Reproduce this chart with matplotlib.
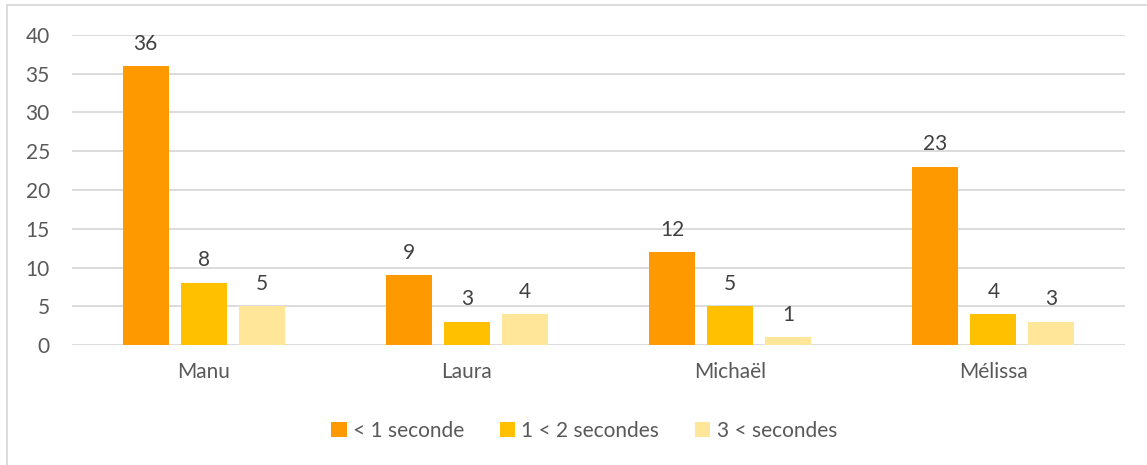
import matplotlib
matplotlib.use("Agg")
import matplotlib.pyplot as plt
import numpy as np
from matplotlib.lines import Line2D

categories = ["Manu", "Laura", "Michaël", "Mélissa"]
series_names = ["< 1 seconde", "1 < 2 secondes", "3 < secondes"]
under_1s = [36, 9, 12, 23]
between_1_2s = [8, 3, 5, 4]
over_3s = [5, 4, 1, 3]
yticks = [0, 5, 10, 15, 20, 25, 30, 35, 40]

colors = ["#FF9900", "#FFC000", "#FFE699"]
plt.rcParams["font.family"] = ["Lato", "DejaVu Sans"]
FS = 15

W, H = 1147, 465
fig = plt.figure(figsize=(W / 100, H / 100), dpi=100)
ax = fig.add_axes([72 / W, 1 - 345 / H, (1125 - 72) / W, (345 - 35) / H])

x = np.arange(len(categories))
bar_w = 46 / 263.25
step = 58 / 263.25
for i, (vals, name, col) in enumerate(zip([under_1s, between_1_2s, over_3s], series_names, colors)):
    pos = x + (i - 1) * step
    bars = ax.bar(pos, vals, width=bar_w, color=col, label=name, zorder=3)
    for b, v in zip(bars, vals):
        ax.annotate(str(v), (b.get_x() + b.get_width() / 2, v), xytext=(0, 9),
                    textcoords="offset points", ha="center", va="bottom",
                    fontsize=FS, color="#404040")

ax.set_xlim(-0.5, len(categories) - 0.5)
ax.set_ylim(0, 40)
ax.set_yticks(yticks)
ax.set_xticks(x)
ax.set_xticklabels(categories)
ax.grid(axis="y", color="#D9D9D9", linewidth=1.3, zorder=0)
for s in ax.spines.values():
    s.set_visible(False)
ax.tick_params(axis="both", length=0, labelsize=FS, colors="#595959")
ax.tick_params(axis="y", pad=16)
ax.tick_params(axis="x", pad=12)

leg = fig.legend(loc="center", bbox_to_anchor=(584 / W, 1 - 431 / H), ncol=3, frameon=False,
                 fontsize=FS, handlelength=0.75, handleheight=0.75, handletextpad=0.3,
                 columnspacing=1.7)
for t in leg.get_texts():
    t.set_color("#595959")

# chart area frame
fig.add_artist(Line2D([7.5 / W, 7.5 / W], [0, 1 - 5 / H], color="#D9D9D9", lw=1.3))
fig.add_artist(Line2D([7.5 / W, 1], [1 - 5 / H, 1 - 5 / H], color="#D9D9D9", lw=1.3))

fig.savefig("out.png", dpi=100)
